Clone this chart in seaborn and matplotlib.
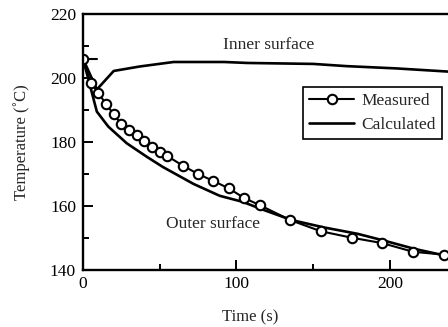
import pandas as pd
import matplotlib
matplotlib.use('Agg')
import matplotlib.pyplot as plt
import seaborn as sns

# measured temperatures (circles)
meas_t = [0, 5, 10, 15, 20, 25, 30, 35, 40, 45, 50, 55, 65, 75, 85, 95,
          105, 115, 135, 155, 175, 195, 215, 235]
meas_T = [205.8, 198.5, 195.4, 191.8, 188.7, 185.5, 183.8, 182.2, 180.4, 178.5,
          177.0, 175.6, 172.6, 170.0, 167.8, 165.5, 162.5, 160.3, 155.6, 152.1,
          150.1, 148.4, 145.7, 144.8]

# calculated, outer surface
outer_t = [0, 9, 16.5, 28.5, 41.5, 52, 72, 89, 104, 117.5, 136, 157, 179, 196, 216, 236]
outer_T = [206, 189.5, 184.8, 179.6, 175.4, 172.2, 166.9, 163.2, 161.3, 158.8,
           155.6, 153.3, 151.3, 149.2, 146.6, 144.5]

# calculated, inner surface
inner_t = [0, 9, 20, 37, 59, 92, 107, 150, 172, 204, 238]
inner_T = [206, 196.4, 202.2, 203.6, 205.0, 205.0, 204.7, 204.4, 203.7,
           203.0, 202.0]

# short dash next to the first measured point
dash_t = [0, 9]
dash_T = [206, 206]

sns.set_style('ticks')
plt.rcParams['font.family'] = ['Liberation Serif', 'DejaVu Serif']

fig = plt.figure(figsize=(4.48, 3.27), dpi=100)
ax = fig.add_axes([0.1853, 0.1743, 0.8147, 0.7829])

meas = pd.DataFrame({'t': meas_t, 'T': meas_T})
outer = pd.DataFrame({'t': outer_t, 'T': outer_T})
inner = pd.DataFrame({'t': inner_t, 'T': inner_T})
dash = pd.DataFrame({'t': dash_t, 'T': dash_T})

sns.lineplot(data=outer, x='t', y='T', ax=ax, color='black', lw=1.9,
             sort=False, estimator=None, label='Calculated')
sns.lineplot(data=inner, x='t', y='T', ax=ax, color='black', lw=1.9,
             sort=False, estimator=None)
sns.lineplot(data=dash, x='t', y='T', ax=ax, color='black', lw=1.5,
             sort=False, estimator=None)
sns.lineplot(data=meas, x='t', y='T', ax=ax, color='black', lw=1.5,
             marker='o', markersize=6.8, markerfacecolor='white',
             markeredgecolor='black', markeredgewidth=1.5,
             sort=False, estimator=None, label='Measured')

ax.set_xlim(0, 237.8)
ax.set_ylim(140, 220)
ax.set_xticks([0, 100, 200])
ax.set_xticks([50, 150], minor=True)
ax.set_yticks([140, 160, 180, 200, 220])
ax.set_yticks([150, 170, 190, 210], minor=True)
ax.tick_params(which='both', direction='in', width=1.4, labelsize=12.5,
               colors='black')
ax.tick_params(which='major', length=7)
ax.tick_params(which='minor', length=4.5)
ax.tick_params(axis='y', pad=5)
ax.tick_params(axis='x', pad=4)

ax.spines['right'].set_visible(False)
for s in ['left', 'bottom', 'top']:
    ax.spines[s].set_linewidth(1.7)
    ax.spines[s].set_color('black')

ax.set_xlabel('Time (s)', fontsize=12)
ax.xaxis.set_label_coords(0.4575, -0.155)
ax.set_ylabel('Temperature (˚C)', fontsize=12)
ax.yaxis.set_label_coords(-0.145, 0.5)

ax.text(120.8, 210.2, 'Inner surface', fontsize=12.5, ha='center', va='center')
ax.text(84.4, 154.4, 'Outer surface', fontsize=12.5, ha='center', va='center')

h, l = ax.get_legend_handles_labels()
order = [l.index('Measured'), l.index('Calculated')]
leg = ax.legend([h[i] for i in order], [l[i] for i in order],
                loc='upper right', bbox_to_anchor=(0.9836, 0.715),
                fontsize=12.5, frameon=True, fancybox=False, framealpha=1,
                edgecolor='black', handlelength=2.6, handletextpad=0.4,
                borderpad=0.35, labelspacing=0.45, borderaxespad=0)
leg.get_frame().set_linewidth(1.2)

fig.savefig('out.png', dpi=100)
